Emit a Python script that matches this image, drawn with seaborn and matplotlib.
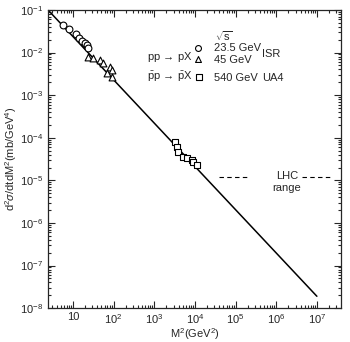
"""Diffractive cross section d2sigma/dtdM2 vs M2, with ISR and UA4 points."""
import matplotlib
matplotlib.use("Agg")
import matplotlib.pyplot as plt
import matplotlib.ticker as mticker
import seaborn as sns
import pandas as pd

# ISR 23.5 GeV (circles)
isr235_m2 = [5.7, 7.9, 11.9, 14.0, 16.6, 19.7, 22.1, 23.4]
isr235_xs = [0.0445, 0.0358, 0.0273, 0.022, 0.0187, 0.0168, 0.0151, 0.0128]
# ISR 45 GeV (triangles)
isr45_m2 = [23.4, 31, 46, 55, 81, 91, 69, 91]
isr45_xs = [0.0079, 0.0075, 0.0067, 0.0057, 0.0046, 0.0039, 0.0033, 0.0027]
# UA4 540 GeV (squares)
ua4_m2 = [3200, 3590, 3800, 5030, 6300, 8330, 8900, 11200]
ua4_xs = [7.96e-5, 6.1e-5, 4.6e-5, 3.55e-5, 3.36e-5, 3.0e-5, 2.7e-5, 2.3e-5]
# fitted line endpoints
fit_m2 = [2.43, 1.0e7]
fit_xs = [0.1, 1.9e-8]

xticks = [10, 1e2, 1e3, 1e4, 1e5, 1e6, 1e7]
xticklabels = ["10", "10$^2$", "10$^3$", "10$^4$", "10$^5$", "10$^6$", "10$^7$"]
yticks = [1e-1, 1e-2, 1e-3, 1e-4, 1e-5, 1e-6, 1e-7, 1e-8]
yticklabels = ["10$^{-%d}$" % i for i in range(1, 9)]

sns.set_style("ticks")
plt.rcParams['font.family'] = ['Liberation Sans', 'DejaVu Sans']
plt.rcParams['mathtext.fontset'] = 'custom'
plt.rcParams['mathtext.rm'] = 'Liberation Sans'
plt.rcParams['mathtext.it'] = 'Liberation Sans:italic'

fig = plt.figure(figsize=(3.5, 3.42), dpi=100)
ax = fig.add_axes([0.137, 0.099, 0.837, 0.872])

dfit = pd.DataFrame({'m2': fit_m2, 'xs': fit_xs})
sns.lineplot(x='m2', y='xs', data=dfit, color='black', lw=1.1, ax=ax)

mkw = dict(facecolor='white', edgecolor='black', linewidth=0.8, s=24, zorder=3, ax=ax)
sns.scatterplot(x=isr235_m2, y=isr235_xs, marker='o', **mkw)
sns.scatterplot(x=isr45_m2, y=isr45_xs, marker='^', **mkw)
sns.scatterplot(x=ua4_m2, y=ua4_xs, marker='s', **mkw)

ax.set_xscale('log')
ax.set_yscale('log')
ax.set_xlim(2.43, 3.9e7)
ax.set_ylim(1e-8, 1e-1)
ax.set_xticks(xticks)
ax.set_xticklabels(xticklabels)
ax.set_yticks(yticks)
ax.set_yticklabels(yticklabels)
ax.xaxis.set_minor_locator(mticker.LogLocator(base=10, subs=range(2, 10), numticks=20))
ax.yaxis.set_minor_locator(mticker.LogLocator(base=10, subs=range(2, 10), numticks=20))
ax.xaxis.set_minor_formatter(mticker.NullFormatter())
ax.yaxis.set_minor_formatter(mticker.NullFormatter())
ax.tick_params(which='both', direction='in', top=True, right=True, labelsize=8, width=0.8)
ax.tick_params(which='major', length=5)
ax.tick_params(which='minor', length=2.5)
ax.tick_params(axis='x', pad=3)
for sp in ax.spines.values():
    sp.set_linewidth(0.9)

ax.set_xlabel("M$^2$(GeV$^2$)", fontsize=8, labelpad=0)
ax.set_ylabel("d$^2\\sigma$/dtdM$^2$(mb/GeV$^4$)", fontsize=8, labelpad=1)

# legend drawn as text block
tr = ax.transAxes
def axpos(px, py):
    return ((px - 48) / 293.0, (308 - py) / 298.0)

fs = 8
ax.text(*axpos(215, 36), "$\\sqrt{\\rm s}$", transform=tr, fontsize=fs, va='center')
ax.text(*axpos(147, 57), "pp$\\,\\rightarrow\\,$pX", transform=tr, fontsize=fs, va='center')
ax.text(*axpos(147, 77), "$\\bar{\\rm p}$p$\\,\\rightarrow\\,\\bar{\\rm p}$X",
        transform=tr, fontsize=fs, va='center')
for (px, py), mk in [((198, 48), 'o'), ((198, 59), '^'), ((199, 77), 's')]:
    ax.scatter(*axpos(px, py), marker=mk, s=18, facecolor='white', edgecolor='black',
               linewidth=0.8, transform=tr, clip_on=False)
ax.text(*axpos(214, 48), "23.5 GeV", transform=tr, fontsize=fs, va='center')
ax.text(*axpos(214, 60), "45 GeV", transform=tr, fontsize=fs, va='center')
ax.text(*axpos(214, 78), "540 GeV", transform=tr, fontsize=fs, va='center')
ax.text(*axpos(262, 54), "ISR", transform=tr, fontsize=fs, va='center')
ax.text(*axpos(262, 78), "UA4", transform=tr, fontsize=fs, va='center')

# LHC range marker
ax.text(*axpos(287, 176), "LHC", transform=tr, fontsize=fs, va='center', ha='center')
ax.text(*axpos(287, 188), "range", transform=tr, fontsize=fs, va='center', ha='center')
for x0, x1 in [(219, 248), (302, 330)]:
    p0, p1 = axpos(x0, 177), axpos(x1, 177)
    ax.plot([p0[0], p1[0]], [p0[1], p1[1]], transform=tr, color='black',
            lw=0.8, ls=(0, (4, 3)))

fig.savefig("out.png", dpi=100)
